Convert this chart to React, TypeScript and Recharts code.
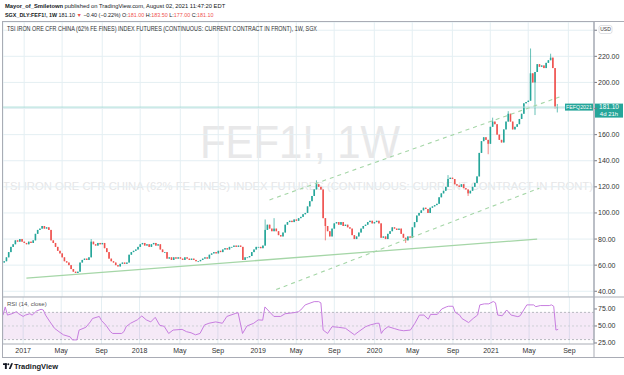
import React from "react";
import {
  Bar,
  CartesianGrid,
  ComposedChart,
  Line,
  ReferenceArea,
  ReferenceLine,
  XAxis,
  YAxis,
} from "recharts";

const UP = "#26a69a";
const DOWN = "#ef5350";
const GRID = "#e4eff3";
const TREND = "#a5d6a7";
const RSI_COLOR = "#c77ddf";
const BORDER = "#a9acb5";
const FONT = "'Liberation Sans', Arial, sans-serif";

// week index 0 = first weekly bar of 2017
const FIRST_WEEK = -9;
const LAST_WEEK = 255;

// weekly closes
const close2016 = [63, 66, 70, 74, 76, 79, 78, 80, 78];
const close2017 = [
  77, 76, 78, 77, 79, 84, 87, 88, 90, 88, 89, 87, 79, 77, 74, 71, 69, 66, 63, 62,
  60, 57, 55, 54, 55, 62, 64, 65, 64, 66, 78, 76, 75, 77, 76, 77, 73, 70, 65, 63,
  62, 60, 59, 61, 62, 61, 62, 68, 70, 71, 72, 74,
];
const close2018 = [
  76, 77, 75, 76, 74, 76, 77, 75, 76, 72, 70, 70, 65, 66, 64, 66, 65, 66, 65, 64,
  66, 65, 64, 65, 64, 63, 63, 64, 65, 66, 65, 68, 69, 70, 69, 71, 70, 72, 73, 72,
  74, 74, 75, 74, 75, 74, 64, 66, 66, 67, 70, 72,
];
const close2019 = [
  74, 74, 73, 75, 87, 91, 88, 86, 88, 86, 83, 82, 85, 91, 93, 94, 93, 95, 94, 96,
  97, 99, 100, 105, 109, 113, 118, 122, 120, 118, 96, 90, 86, 82, 88, 92, 93, 91, 93, 90,
  91, 89, 88, 83, 80, 82, 85, 88, 90, 91, 93, 94,
];
const close2020 = [
  92, 93, 94, 92, 81, 82, 80, 84, 86, 89, 88, 87, 88, 84, 81, 79, 82, 81, 89, 93,
  98, 100, 102, 104, 103, 100, 104, 105, 106, 107, 112, 115, 117, 120, 126, 127, 126, 122, 121, 120,
  122, 119, 118, 115, 117, 120, 123, 128, 146, 155, 158, 156,
];
const close2021 = [
  153, 166, 170, 168, 160, 156, 154, 164, 170, 176, 170, 164, 166, 168, 172, 176, 184, 185, 186, 207,
  200, 208, 214, 212, 213, 211, 215, 217, 219, 211, 181.5, 181.1,
];

const openOverrides: [number, number][] = [
  [-9, 62],
  [239, 181.0],
];
const wickHighs: [number, number][] = [
  [30, 80], [108, 95], [112, 96], [131, 125], [190, 129], [210, 173],
  [217, 178], [227, 226], [236, 222], [239, 183.5],
];
const wickLows: [number, number][] = [
  [135, 79], [171, 77], [199, 113], [208, 145], [229, 175], [238, 180], [239, 177],
];

// RSI(14) line: [week, value]
const rsiPoints: [number, number][] = [
  [-9, 66], [-8, 78], [-7, 66], [-5, 68], [-3, 71], [-2, 68], [0, 64], [1, 66], [3, 68], [4, 66],
  [6, 72], [8, 74.5], [9, 73.5], [10, 66], [12, 56], [14, 46.6], [16, 41.6], [18, 37], [21, 34],
  [22, 29.5], [24, 29.5], [25, 44], [28, 48], [30, 56], [31, 61], [34, 64], [35, 58], [37, 51],
  [39, 41.6], [40, 39], [44, 39], [45, 41.6], [46, 49], [48, 54], [51, 59], [53, 64.7], [55, 59],
  [57, 56], [59, 62.7], [61, 51], [63, 49.5], [65, 39], [67, 44], [71, 45], [73, 41.6], [75, 40],
  [77, 37], [79, 39], [81, 51.5], [83, 54], [86, 56], [89, 54], [91, 64], [95, 68.6], [96, 69.6],
  [98, 39], [100, 50], [103, 54], [105, 59], [107, 58.5], [108, 78], [110, 71], [112, 64], [115, 64],
  [117, 68], [121, 69.6], [123, 71], [124, 73.5], [126, 81], [130, 85.8], [132, 85.8], [133, 84],
  [134, 44], [136, 39], [138, 49], [141, 48], [144, 46.6], [146, 41.7], [148, 37], [150, 42],
  [153, 49], [155, 51.5], [158, 54], [159, 54], [160, 39], [161, 44], [163, 49], [166, 46], [168, 44],
  [170, 43], [173, 44], [175, 54], [177, 66], [179, 66], [181, 60], [182, 67], [185, 67], [187, 75],
  [189, 78], [190, 79], [192, 79], [193, 70], [195, 66], [196, 61], [199, 55], [201, 61], [203, 66],
  [204, 81], [206, 82.5], [208, 82.5], [210, 86], [211, 84], [212, 66], [214, 65], [216, 73.5],
  [218, 66], [221, 63.7], [222, 65], [225, 81], [228, 81], [229, 78.4], [231, 80], [235, 80],
  [236, 81], [237, 79], [238, 44], [239, 45],
];

// trend-line drawings: [week, price]
const supportLine = [{ x: 1, y: 50 }, { x: 230, y: 80 }];
const channelTop = [{ x: 110, y: 110 }, { x: 240, y: 188.8 }];
const channelBottom = [{ x: 113, y: 41.3 }, { x: 231, y: 119 }];

const timeTicks = [0, 17, 35, 52, 70, 87, 105, 122, 139, 157, 174, 192, 209, 226, 244];
const timeLabels = ["2017", "May", "Sep", "2018", "May", "Sep", "2019", "May", "Sep", "2020", "May", "Sep", "2021", "May", "Sep"];
const priceTicks = [40, 60, 80, 100, 120, 140, 160, 180, 200, 220, 240];
const rsiTicks = [25, 50, 75];
const rsiBand = [30, 70];

const closes = [...close2016, ...close2017, ...close2018, ...close2019, ...close2020, ...close2021];
const openMap = new Map(openOverrides);
const highMap = new Map(wickHighs);
const lowMap = new Map(wickLows);
const rsiMap = new Map(rsiPoints);
const lastClose = closes[closes.length - 1];

const rows: any[] = [];
for (let w = FIRST_WEEK; w <= LAST_WEEK; w++) {
  const i = w - FIRST_WEEK;
  const row: any = { w };
  if (i < closes.length) {
    const close = closes[i];
    const open = openMap.get(w) ?? (i > 0 ? closes[i - 1] : close);
    const high = Math.max(open, close, highMap.get(w) ?? -Infinity);
    const low = Math.min(open, close, lowMap.get(w) ?? Infinity);
    row.open = open;
    row.close = close;
    row.range = [low, high];
  }
  if (rsiMap.has(w)) row.rsi = rsiMap.get(w);
  rows.push(row);
}

function Candle(props: any) {
  const { x, y, width, height, payload } = props;
  if (!payload || !payload.range) return null;
  const [low, high] = payload.range;
  const top = Math.min(y, y + height);
  const bottom = Math.max(y, y + height);
  const span = high - low;
  const px = (v: number) => (span > 0 ? top + ((high - v) / span) * (bottom - top) : top);
  const color = payload.close >= payload.open ? UP : DOWN;
  const cx = x + width / 2;
  const yo = px(payload.open);
  const yc = px(payload.close);
  return (
    <g>
      <line x1={cx} x2={cx} y1={top} y2={bottom} stroke={color} strokeWidth={0.7} />
      <rect x={cx - 0.8} y={Math.min(yo, yc)} width={1.6} height={Math.max(Math.abs(yc - yo), 0.8)} fill={color} />
    </g>
  );
}

function PriceTag({ viewBox }: any) {
  if (!viewBox) return null;
  const right = viewBox.x + viewBox.width;
  const y = viewBox.y;
  return (
    <g fontFamily={FONT}>
      <rect x={right - 29} y={y - 3.5} width={28} height={7} fill={UP} />
      <text x={right - 15} y={y + 2} fontSize={5.3} fill="#fff" textAnchor="middle">FEFQ2021</text>
      <rect x={right + 1} y={y - 3.5} width={28} height={14} fill={UP} />
      <text x={right + 15} y={y + 2.2} fontSize={6.5} fill="#fff" textAnchor="middle">{lastClose.toFixed(2)}</text>
      <text x={right + 15} y={y + 8.8} fontSize={6} fill="#fff" textAnchor="middle">4d 21h</text>
    </g>
  );
}

const axisTick = { fontSize: 7, fill: "#333", fontFamily: FONT };

export default function App() {
  return (
    <div style={{ position: "fixed", left: 0, top: 0, width: 624, height: 375, background: "#fff", overflow: "hidden", fontFamily: FONT }}>
      <svg width={624} height={375} style={{ position: "absolute", left: 0, top: 0 }}>
        <text x={200} y={158} fontSize={46} fill="#e8e8e9" textLength={200} lengthAdjust="spacingAndGlyphs">FEF1!, 1W</text>
        <text x={3} y={190} fontSize={11.2} fill="#e6e6e7" textLength={590} lengthAdjust="spacingAndGlyphs">
          TSI IRON ORE CFR CHINA (62% FE FINES) INDEX FUTURES (CONTINUOUS: CURRENT CONTRACT IN FRONT)
        </text>
      </svg>

      <div style={{ position: "absolute", left: 3, top: 22 }}>
        <ComposedChart width={621} height={275} data={rows} margin={{ top: 0, right: 0, bottom: 0, left: 0 }}>
          <CartesianGrid stroke={GRID} />
          <XAxis dataKey="w" type="category" hide ticks={timeTicks} interval={0} />
          <YAxis
            orientation="right"
            width={30}
            domain={[35.6, 246.3]}
            allowDataOverflow
            ticks={priceTicks}
            interval={0}
            tick={axisTick}
            tickSize={3}
            tickMargin={1}
            tickLine={{ stroke: "#787b86" }}
            axisLine={{ stroke: BORDER }}
            tickFormatter={(v: number) => (v === 240 || v === 180 ? "" : v.toFixed(2))}
          />
          <Bar dataKey="range" shape={<Candle />} isAnimationActive={false} />
          <ReferenceLine segment={supportLine} stroke={TREND} strokeWidth={1.3} ifOverflow="visible" />
          <ReferenceLine segment={channelTop} stroke={TREND} strokeWidth={1.1} strokeDasharray="4 4" ifOverflow="visible" />
          <ReferenceLine segment={channelBottom} stroke={TREND} strokeWidth={1.1} strokeDasharray="4 4" ifOverflow="visible" />
          <ReferenceLine y={lastClose} stroke="#a8dcd7" strokeWidth={1} label={<PriceTag />} />
        </ComposedChart>
      </div>

      <div style={{ position: "absolute", left: 3, top: 297 }}>
        <ComposedChart width={621} height={60} data={rows} margin={{ top: 0, right: 0, bottom: 0, left: 0 }}>
          <CartesianGrid stroke={GRID} horizontal={false} />
          <XAxis
            dataKey="w"
            type="category"
            ticks={timeTicks}
            interval={0}
            height={13}
            tick={axisTick}
            tickLine={false}
            tickSize={3}
            tickMargin={1}
            axisLine={{ stroke: BORDER }}
            tickFormatter={(v: number) => timeLabels[timeTicks.indexOf(v)] ?? ""}
          />
          <YAxis
            orientation="right"
            width={30}
            domain={[23.5, 92.6]}
            allowDataOverflow
            ticks={rsiTicks}
            interval={0}
            tick={axisTick}
            tickSize={3}
            tickMargin={1}
            tickLine={{ stroke: "#787b86" }}
            axisLine={{ stroke: BORDER }}
            tickFormatter={(v: number) => v.toFixed(2)}
          />
          <ReferenceArea y1={rsiBand[0]} y2={rsiBand[1]} fill="#9c27b0" fillOpacity={0.1} stroke="none" />
          <ReferenceLine y={rsiBand[1]} stroke="#b8b9c0" strokeDasharray="2 2" />
          <ReferenceLine y={50} stroke="#cfd0d6" strokeDasharray="2 2" />
          <ReferenceLine y={rsiBand[0]} stroke="#b8b9c0" strokeDasharray="2 2" />
          <Line dataKey="rsi" stroke={RSI_COLOR} strokeWidth={1} dot={false} connectNulls isAnimationActive={false} />
        </ComposedChart>
      </div>

      <svg width={624} height={375} style={{ position: "absolute", left: 0, top: 0, pointerEvents: "none" }} fontFamily={FONT}>
        <text x={5} y={7.5} fontSize={5.8} fill="#131722">
          <tspan fontWeight="bold">Mayor_of_Smiletown</tspan> published on TradingView.com, August 02, 2021 11:47:20 EDT
        </text>
        <text x={5} y={17} fontSize={5.4} fill="#131722">
          <tspan fontWeight="bold">SGX_DLY:FEF1!, 1W</tspan> 181.10 <tspan fill={DOWN}>▼</tspan> −0.40 (−0.22%) O:<tspan fill={DOWN}>181.00</tspan> H:<tspan fill={DOWN}>183.50</tspan> L:<tspan fill={DOWN}>177.00</tspan> C:<tspan fill={DOWN}>181.10</tspan>
        </text>
        <rect x={2.5} y={21.5} width={622} height={336} fill="none" stroke={BORDER} strokeWidth={1} />
        <line x1={2.5} x2={624} y1={297} y2={297} stroke={BORDER} />
        <line x1={594} x2={594} y1={22} y2={357} stroke={BORDER} />
        <text x={7} y={30.5} fontSize={6.3} fill="#333" textLength={310} lengthAdjust="spacingAndGlyphs">
          TSI IRON ORE CFR CHINA (62% FE FINES) INDEX FUTURES (CONTINUOUS: CURRENT CONTRACT IN FRONT), 1W, SGX
        </text>
        <rect x={599} y={25.5} width={13} height={8} rx={2} fill="#fff" stroke="#c9ccd3" strokeWidth={0.6} />
        <text x={605.5} y={31.3} fontSize={5} fill="#333" textAnchor="middle">USD</text>
        <text x={7} y={306} fontSize={6} fill="#555">RSI (14, close)</text>
        <rect x={3} y={363.3} width={3.8} height={1.7} fill="#131722" />
        <rect x={4.9} y={363.3} width={1.9} height={5.7} fill="#131722" />
        <circle cx={8.3} cy={364.3} r={1} fill="#131722" />
        <polygon points="8.8,369 11.2,363.3 13,363.3 10.6,369" fill="#131722" />
        <text x={14} y={369.3} fontSize={7.5} fontWeight={600} fill="#131722">TradingView</text>
      </svg>
    </div>
  );
}
